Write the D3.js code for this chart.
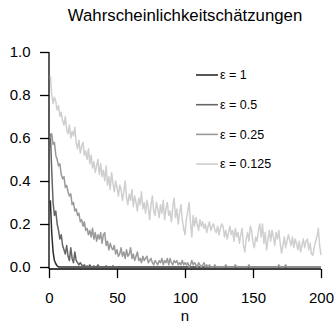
<!DOCTYPE html>
<html>
<head>
<meta charset="utf-8">
<script src="https://cdn.jsdelivr.net/npm/d3@7"></script>
<style>
  body { margin: 0; background: #fff; }
  text { font-family: "Liberation Sans", Arial, sans-serif; fill: #000; }
</style>
</head>
<body>
<div id="chart"></div>
<script>
// series values, n = 1..200
var eps1 = [
  0.31, 0.16, 0.07, 0.03, 0.015, 0.005, 0, 0, 0, 0, 0, 0, 0, 0, 0, 0, 0, 0, 0, 0,
  0, 0, 0, 0, 0, 0, 0, 0, 0, 0, 0, 0, 0, 0, 0, 0, 0, 0, 0, 0,
  0, 0, 0, 0, 0, 0, 0, 0, 0, 0, 0, 0, 0, 0, 0, 0, 0, 0, 0, 0,
  0, 0, 0, 0, 0, 0, 0, 0, 0, 0, 0, 0, 0, 0, 0, 0, 0, 0, 0, 0,
  0, 0, 0, 0, 0, 0, 0, 0, 0, 0, 0, 0, 0, 0, 0, 0, 0, 0, 0, 0,
  0, 0, 0, 0, 0, 0, 0, 0, 0, 0, 0, 0, 0, 0, 0, 0, 0, 0, 0, 0,
  0, 0, 0, 0, 0, 0, 0, 0, 0, 0, 0, 0, 0, 0, 0, 0, 0, 0, 0, 0,
  0, 0, 0, 0, 0, 0, 0, 0, 0, 0, 0, 0, 0, 0, 0, 0, 0, 0, 0, 0,
  0, 0, 0, 0, 0, 0, 0, 0, 0, 0, 0, 0, 0, 0, 0, 0, 0, 0, 0, 0,
  0, 0, 0, 0, 0, 0, 0, 0, 0, 0, 0, 0, 0, 0, 0, 0, 0, 0, 0, 0
];
var eps05 = [
  0.62, 0.45, 0.30, 0.24, 0.26, 0.20, 0.17, 0.13, 0.15, 0.10, 0.08, 0.06, 0.10, 0.05, 0.03, 0.09, 0.04, 0.02, 0.07, 0.03,
  0.02, 0.01, 0.02, 0.01, 0.005, 0.01, 0, 0.005, 0, 0.01, 0, 0, 0.005, 0, 0, 0.01, 0, 0, 0, 0,
  0, 0.005, 0, 0, 0, 0, 0.005, 0, 0, 0, 0, 0, 0, 0, 0, 0, 0, 0, 0, 0,
  0, 0, 0, 0, 0, 0, 0, 0, 0, 0, 0, 0, 0, 0, 0, 0, 0, 0, 0, 0,
  0, 0, 0, 0, 0, 0, 0, 0, 0, 0, 0, 0, 0, 0, 0, 0, 0, 0, 0, 0,
  0, 0, 0, 0, 0, 0, 0, 0, 0, 0, 0, 0, 0, 0, 0, 0, 0, 0, 0, 0,
  0, 0, 0, 0, 0, 0, 0, 0, 0, 0, 0, 0, 0, 0, 0, 0, 0, 0, 0, 0,
  0, 0, 0, 0, 0, 0, 0, 0, 0, 0, 0, 0, 0, 0, 0, 0, 0, 0, 0, 0,
  0, 0, 0, 0, 0, 0, 0, 0, 0, 0, 0, 0, 0, 0, 0, 0, 0, 0, 0, 0,
  0, 0, 0, 0, 0, 0, 0, 0, 0, 0, 0, 0, 0, 0, 0, 0, 0, 0, 0, 0
];
var eps025 = [
  0.60, 0.62, 0.57, 0.58, 0.52, 0.50, 0.47, 0.48, 0.43, 0.41, 0.42, 0.37, 0.38, 0.35, 0.33, 0.34, 0.29, 0.30, 0.26, 0.27,
  0.24, 0.25, 0.21, 0.22, 0.19, 0.21, 0.17, 0.18, 0.15, 0.17, 0.14, 0.18, 0.13, 0.16, 0.12, 0.15, 0.13, 0.16, 0.11, 0.15,
  0.16, 0.10, 0.12, 0.08, 0.11, 0.09, 0.08, 0.10, 0.06, 0.08, 0.05, 0.06, 0.09, 0.05, 0.07, 0.04, 0.08, 0.05, 0.06, 0.09,
  0.04, 0.06, 0.03, 0.05, 0.07, 0.03, 0.04, 0.02, 0.05, 0.03, 0.04, 0.05, 0.02, 0.03, 0.04, 0.02, 0.01, 0.03, 0.02, 0.01,
  0.03, 0.02, 0.04, 0.01, 0.03, 0.02, 0.04, 0.01, 0.04, 0.02, 0.01, 0.03, 0.02, 0.03, 0.01, 0.02, 0.01, 0.03, 0.01, 0.02,
  0.01, 0.02, 0, 0.01, 0.03, 0.01, 0.02, 0.01, 0, 0.02, 0.01, 0, 0.01, 0.02, 0, 0.01, 0, 0.01, 0, 0,
  0, 0.01, 0, 0, 0, 0, 0, 0, 0, 0.01, 0, 0, 0, 0, 0, 0, 0.01, 0, 0, 0,
  0, 0, 0, 0, 0, 0, 0.01, 0, 0, 0, 0, 0, 0, 0, 0, 0, 0, 0, 0, 0,
  0, 0, 0, 0, 0, 0, 0, 0, 0.01, 0, 0, 0, 0, 0.01, 0, 0, 0, 0, 0, 0,
  0, 0, 0, 0, 0, 0, 0, 0, 0, 0, 0, 0, 0, 0, 0, 0, 0, 0, 0, 0
];
var eps0125 = [
  0.89, 0.80, 0.76, 0.79, 0.77, 0.73, 0.75, 0.70, 0.72, 0.68, 0.66, 0.70, 0.64, 0.62, 0.66, 0.60, 0.63, 0.61, 0.65, 0.58,
  0.55, 0.59, 0.53, 0.56, 0.58, 0.52, 0.54, 0.50, 0.55, 0.48, 0.52, 0.46, 0.49, 0.44, 0.47, 0.50, 0.43, 0.48, 0.42, 0.45,
  0.40, 0.47, 0.38, 0.42, 0.36, 0.44, 0.39, 0.35, 0.40, 0.37, 0.33, 0.38, 0.36, 0.31, 0.35, 0.40, 0.32, 0.29, 0.34, 0.31,
  0.36, 0.28, 0.33, 0.30, 0.26, 0.32, 0.29, 0.35, 0.27, 0.30, 0.25, 0.31, 0.28, 0.22, 0.29, 0.33, 0.26, 0.24, 0.30, 0.27,
  0.23, 0.29, 0.25, 0.31, 0.22, 0.27, 0.30, 0.24, 0.26, 0.21, 0.28, 0.32, 0.23, 0.27, 0.20, 0.25, 0.29, 0.22, 0.18, 0.15,
  0.22, 0.26, 0.30, 0.21, 0.14, 0.24, 0.19, 0.23, 0.20, 0.17, 0.22, 0.19, 0.21, 0.18, 0.20, 0.16, 0.19, 0.21, 0.17, 0.19,
  0.20, 0.17, 0.16, 0.19, 0.15, 0.18, 0.20, 0.19, 0.14, 0.17, 0.13, 0.16, 0.19, 0.15, 0.17, 0.12, 0.18, 0.14, 0.16, 0.11,
  0.15, 0.18, 0.10, 0.07, 0.13, 0.16, 0.12, 0.19, 0.17, 0.11, 0.09, 0.14, 0.12, 0.17, 0.20, 0.14, 0.20, 0.11, 0.16, 0.08,
  0.13, 0.17, 0.12, 0.17, 0.14, 0.10, 0.16, 0.13, 0.17, 0.11, 0.065, 0.10, 0.14, 0.09, 0.12, 0.15, 0.125, 0.10, 0.14, 0.09,
  0.13, 0.11, 0.08, 0.12, 0.07, 0.10, 0.13, 0.09, 0.12, 0.13, 0.08, 0.11, 0.06, 0.055, 0.09, 0.12, 0.14, 0.18, 0.10, 0.055
];
var series_names = ["\u03b5 = 1", "\u03b5 = 0.5", "\u03b5 = 0.25", "\u03b5 = 0.125"];
var series_colors = ["#2e2e2e", "#666666", "#9a9a9a", "#cfcfcf"];
var x_ticks = [0, 50, 100, 150, 200];
var y_ticks = [0, 0.2, 0.4, 0.6, 0.8, 1.0];

var width = 335;
var height = 322;
var svg = d3.select("#chart").append("svg")
            .attr("width", width)
            .attr("height", height);

var xScale = d3.scaleLinear().domain([0, 200]).range([49, 321]);
var yScale = d3.scaleLinear().domain([0, 1]).range([267, 52]);
var axis_y = 269;   // x axis sits a little under the zero line

svg.append("text")
   .attr("x", 185)
   .attr("y", 20.5)
   .attr("text-anchor", "middle")
   .style("font-size", "16.8px")
   .text("Wahrscheinlichkeitschätzungen");

// y axis
var yAxis = svg.append("g")
               .attr("transform", "translate(" + xScale(0) + ",0)")
               .call(d3.axisLeft(yScale).tickValues(y_ticks).tickFormat(d3.format(".1f"))
                     .tickSize(9).tickPadding(9.5));
yAxis.select(".domain").remove();
yAxis.selectAll("text").style("font-size", "15px").attr("font-family", null);
yAxis.append("line")
     .attr("x1", 0).attr("x2", 0)
     .attr("y1", yScale(1)).attr("y2", axis_y)
     .attr("stroke", "#000").attr("stroke-width", 1.3);

// x axis
var xAxis = svg.append("g")
               .attr("transform", "translate(0," + axis_y + ")")
               .call(d3.axisBottom(xScale).tickValues(x_ticks).tickSize(9).tickPadding(14.5));
xAxis.select(".domain").remove();
xAxis.selectAll("text").style("font-size", "15px").attr("font-family", null);
xAxis.append("line")
     .attr("x1", xScale(0)).attr("x2", xScale(200))
     .attr("y1", 0).attr("y2", 0)
     .attr("stroke", "#000").attr("stroke-width", 1.3);
svg.selectAll(".tick line").attr("stroke-width", 1.3);

svg.append("text")
   .attr("x", xScale(100))
   .attr("y", 320.5)
   .attr("text-anchor", "middle")
   .style("font-size", "15px")
   .text("n");

var line = d3.line()
             .x(function(d, i){ return xScale(i + 1); })
             .y(function(d){ return yScale(d); });

var all_series = [eps1, eps05, eps025, eps0125];
all_series.forEach(function(s, k){
    svg.append("path")
       .datum(s)
       .attr("d", line)
       .attr("fill", "none")
       .attr("stroke", series_colors[k])
       .attr("stroke-width", 1.5)
       .attr("stroke-linejoin", "round");
});

// legend
var legend_y = 75;
var legend_step = 29.7;
series_names.forEach(function(name, k){
    var y = legend_y + k * legend_step;
    svg.append("line")
       .attr("x1", 196).attr("x2", 218)
       .attr("y1", y).attr("y2", y)
       .attr("stroke", series_colors[k])
       .attr("stroke-width", 1.6);
    svg.append("text")
       .attr("x", 220)
       .attr("y", y)
       .attr("dy", "0.35em")
       .style("font-size", "12.5px")
       .text(name);
});
</script>
</body>
</html>
